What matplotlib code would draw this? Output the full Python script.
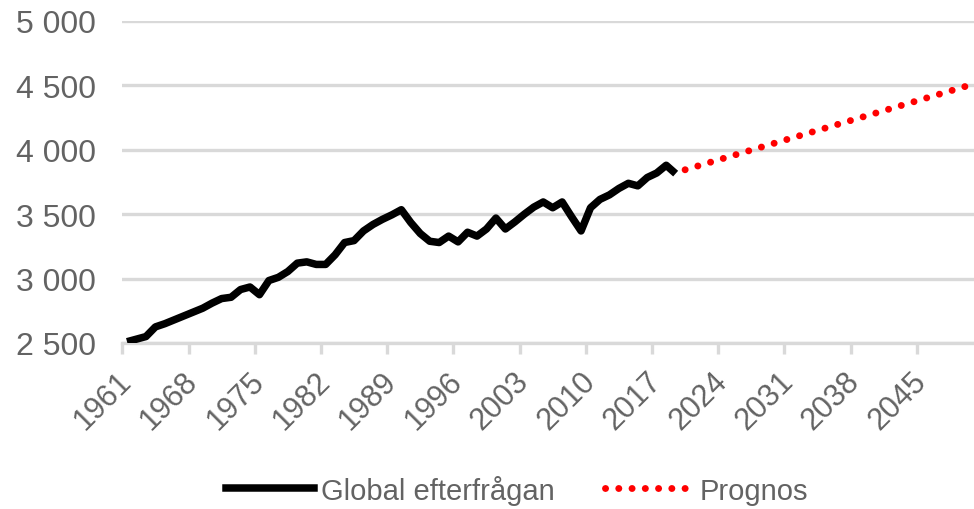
import matplotlib
matplotlib.use("Agg")
import matplotlib.pyplot as plt
import numpy as np
from matplotlib.lines import Line2D

# Historisk efterfrågan 1961-2019
hist_years = list(range(1961, 2020))
hist_values = [2510, 2530, 2550, 2625, 2650, 2680, 2710, 2740, 2770, 2810,
               2845, 2855, 2915, 2935, 2875, 2985, 3010, 3055, 3120, 3130,
               3110, 3110, 3185, 3280, 3295, 3370, 3420, 3460, 3495, 3535,
               3435, 3350, 3290, 3280, 3330, 3285, 3360, 3330, 3385, 3470,
               3385, 3440, 3500, 3555, 3595, 3550, 3595, 3480, 3370, 3550,
               3615, 3650, 3700, 3740, 3720, 3785, 3820, 3880, 3815]

# Prognos (rak linje)
fc_years = [2020, 2050]
fc_values = [3845, 4500]

tick_years = list(range(1961, 2046, 7))
y_ticks = [2500, 3000, 3500, 4000, 4500, 5000]
y_labels = ["2 500", "3 000", "3 500", "4 000", "4 500", "5 000"]

plt.rcParams['font.family'] = ['Liberation Sans', 'DejaVu Sans']
txt = '#636363'
grid = '#d9d9d9'
dots = (0, (0.01, 1.9))

fig = plt.figure(figsize=(9.74, 5.10), dpi=100)
ax = fig.add_axes([122.3 / 974, 1 - 344 / 510, (973.6 - 122.3) / 974, (344 - 22) / 510])

ax.plot(hist_years, hist_values, color='black', lw=5.4, solid_joinstyle='round',
        solid_capstyle='butt', zorder=3)
ax.plot(fc_years, fc_values, color='#ff0000', lw=5.0, linestyle=dots,
        dash_capstyle='round', zorder=3)

ax.set_xlim(1960.5, 2050.5)
ax.set_ylim(2500, 5000)

ax.set_yticks(y_ticks)
ax.set_yticklabels(y_labels)
ax.yaxis.grid(True, color=grid, lw=2.4)
ax.tick_params(axis='y', length=0, pad=19, labelsize=23, labelcolor=txt)

# etiketter på kategorins mitt, streck på kategorigränsen
ax.set_xticks(tick_years)
ax.set_xticklabels([str(y) for y in tick_years], rotation=45, ha='right',
                   rotation_mode='anchor', va='center')
ax.set_xticks([y - 0.5 for y in tick_years], minor=True)
ax.tick_params(axis='x', which='major', length=0, pad=24, labelsize=22, labelcolor=txt)
ax.tick_params(axis='x', which='minor', length=8, width=2.4, color=grid)

for s in ['top', 'right', 'left']:
    ax.spines[s].set_visible(False)
ax.spines['bottom'].set_color(grid)
ax.spines['bottom'].set_linewidth(2.4)
ax.set_axisbelow(True)

handles = [Line2D([], [], color='black', lw=5.4),
           Line2D([], [], color='#ff0000', lw=5.0, linestyle=dots,
                  dash_capstyle='round')]
fig.legend(handles, ['Global efterfrågan', 'Prognos'], loc='center',
           bbox_to_anchor=(0.531, 0.038), ncol=2, frameon=False, fontsize=21,
           labelcolor=txt, handlelength=3.0, handletextpad=0.25, columnspacing=1.7)

fig.savefig('out.png', dpi=100)
